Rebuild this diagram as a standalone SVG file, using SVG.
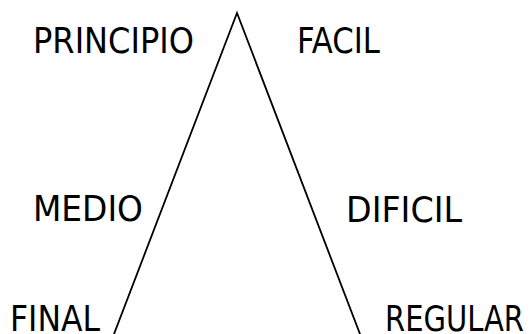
<svg xmlns="http://www.w3.org/2000/svg" width="532" height="334" viewBox="0 0 532 334">
<style>
text{font-family:"DejaVu Sans","Verdana",sans-serif;font-size:35px;fill:#000}
.edge{fill:none;stroke:#000;stroke-width:1.8}
</style>
<rect width="532" height="334" fill="#fff"/>
<g id="connectors">
<polyline class="edge" points="112.1,339 237,13 361.9,339"/>
</g>
<g id="principio"><text x="33" y="53" textLength="161" lengthAdjust="spacingAndGlyphs">PRINCIPIO</text></g>
<g id="facil"><text x="297" y="53" textLength="83" lengthAdjust="spacingAndGlyphs">FACIL</text></g>
<g id="medio"><text x="33" y="221" textLength="110" lengthAdjust="spacingAndGlyphs">MEDIO</text></g>
<g id="dificil"><text x="346" y="222" textLength="116" lengthAdjust="spacingAndGlyphs">DIFICIL</text></g>
<g id="final"><text x="10" y="331" textLength="90" lengthAdjust="spacingAndGlyphs">FINAL</text></g>
<g id="regular"><text x="385" y="331" textLength="139" lengthAdjust="spacingAndGlyphs">REGULAR</text></g>
</svg>
